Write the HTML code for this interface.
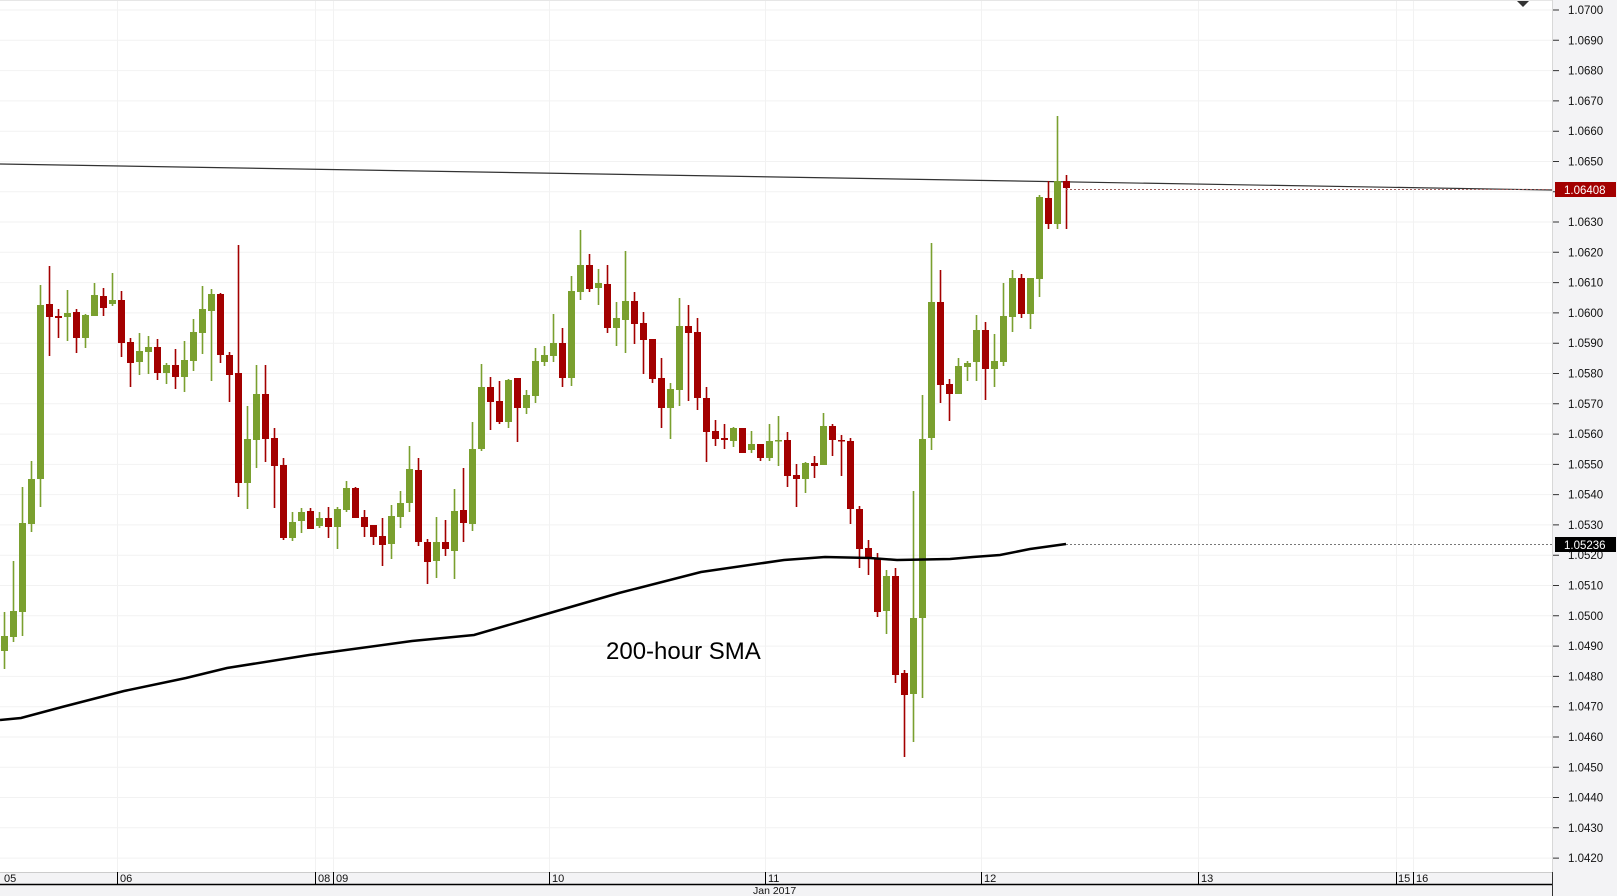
<!DOCTYPE html>
<html><head><meta charset="utf-8"><style>
html,body{margin:0;padding:0;background:#fff;}
svg{display:block;}
.g{fill:#7aa02f;stroke:none}
.r{fill:#a30000;stroke:none}
text{font-family:"Liberation Sans","DejaVu Sans",sans-serif;}
</style></head><body>
<svg width="1617" height="896" viewBox="0 0 1617 896" xmlns="http://www.w3.org/2000/svg">
<rect x="0" y="0" width="1617" height="896" fill="#fff"/>
<rect x="1552" y="0" width="65" height="896" fill="#f3f3f5"/>
<rect x="0" y="872" width="1552" height="24" fill="#f3f3f5"/>
<g stroke="#f2f2f2" stroke-width="1">
<path d="M0 10H1552M0 40.3H1552M0 70.6H1552M0 100.9H1552M0 131.2H1552M0 161.5H1552M0 191.7H1552M0 222H1552M0 252.3H1552M0 282.6H1552M0 312.9H1552M0 343.2H1552M0 373.5H1552M0 403.8H1552M0 434.1H1552M0 464.4H1552M0 494.6H1552M0 524.9H1552M0 555.2H1552M0 585.5H1552M0 615.8H1552M0 646.1H1552M0 676.4H1552M0 706.7H1552M0 737H1552M0 767.3H1552M0 797.5H1552M0 827.8H1552M0 858.1H1552"/>
<path d="M117.5 0V872M315.5 0V872M333.5 0V872M549.5 0V872M765.5 0V872M981.5 0V872M1198.5 0V872M1396.5 0V872M1413.5 0V872"/>
</g>
<line x1="0" y1="0.5" x2="1552" y2="0.5" stroke="#e6e6e6"/>
<line x1="1552.5" y1="0" x2="1552.5" y2="884" stroke="#d8d8d8"/>
<line x1="0" y1="164" x2="1552" y2="190" stroke="#333" stroke-width="1.2"/>
<path stroke="#7aa02f" stroke-width="1.6" fill="none" d="M4.5 612V669M13.5 561V642M22.5 487V636M31.5 461V532M40.5 285V507M67.5 290V341M85.5 314V348M94.5 283V316M112.5 273V306M139.5 333V375M148.5 336V374M166.5 363V384M184.5 341V392M193.5 319V371M202.5 286V354M211.5 289V381M247.5 406V509M256.5 365V468M292.5 512V541M301.5 508V533M319.5 512V528M337.5 507V549M346.5 481V512M391.5 505V559M400.5 491V528M409.5 446V512M436.5 517V578M454.5 489V579M472.5 422V531M481.5 364V451M508.5 379V428M526.5 390V414M535.5 348V403M544.5 346V366M553.5 314V362M571.5 276V386M580.5 230V300M598.5 269V305M616.5 302V346M625.5 251V353M670.5 383V439M679.5 298V406M733.5 427V447M751.5 431V453M769.5 424V461M778.5 416V466M805.5 462V493M823.5 413V465M886.5 570V634M913.5 491V742M922.5 395V698M931.5 243V450M958.5 358V394M967.5 361V381M976.5 315V381M994.5 334V387M1003.5 283V366M1012.5 270V332M1030.5 278V329M1039.5 195V297M1057.5 116V229"/>
<path stroke="#a30000" stroke-width="1.6" fill="none" d="M49.5 266V356M58.5 309V338M76.5 309V353M103.5 288V316M121.5 291V357M130.5 338V387M157.5 339V380M175.5 349V389M220.5 293V363M229.5 352V402M238.5 245V497M265.5 365V462M274.5 428V508M283.5 458V540M310.5 508V529M328.5 507V538M355.5 487V518M364.5 510V537M373.5 525V545M382.5 518V566M418.5 458V546M427.5 539V584M445.5 520V556M463.5 468V542M490.5 377V430M499.5 381V424M517.5 378V442M562.5 328V387M589.5 254V292M607.5 265V333M634.5 292V344M643.5 312V374M652.5 339V383M661.5 358V428M688.5 305V401M697.5 318V410M706.5 387V462M715.5 420V446M724.5 424V449M742.5 428V453M760.5 444V461M787.5 432V487M796.5 464V507M814.5 456V478M832.5 424V456M841.5 435V476M850.5 438V524M859.5 506V568M868.5 540V575M877.5 553V617M895.5 568V683M904.5 670V757M940.5 270V403M949.5 379V421M985.5 322V400M1021.5 274V318M1048.5 181V229M1066.5 175V229"/>
<g class="g">
<rect x="1" y="636" width="7" height="15"/><rect x="10" y="611" width="7" height="26"/><rect x="19" y="523" width="7" height="89"/><rect x="28" y="479" width="7" height="45"/><rect x="37" y="305" width="7" height="174"/><rect x="64" y="313" width="7" height="4"/><rect x="82" y="315" width="7" height="23"/><rect x="91" y="295" width="7" height="21"/><rect x="109" y="300" width="7" height="4"/><rect x="136" y="351" width="7" height="11"/><rect x="145" y="347" width="7" height="5"/><rect x="163" y="365" width="7" height="8"/><rect x="181" y="360" width="7" height="17"/><rect x="190" y="332" width="7" height="29"/><rect x="199" y="309" width="7" height="24"/><rect x="208" y="294" width="7" height="17"/><rect x="244" y="439" width="7" height="44"/><rect x="253" y="394" width="7" height="46"/><rect x="289" y="522" width="7" height="16"/><rect x="298" y="512" width="7" height="9"/><rect x="316" y="518" width="7" height="8"/><rect x="334" y="509" width="7" height="18"/><rect x="343" y="488" width="7" height="22"/><rect x="388" y="516" width="7" height="28"/><rect x="397" y="503" width="7" height="14"/><rect x="406" y="469" width="7" height="34"/><rect x="433" y="542" width="7" height="19"/><rect x="451" y="511" width="7" height="40"/><rect x="469" y="449" width="7" height="75"/><rect x="478" y="387" width="7" height="62"/><rect x="505" y="380" width="7" height="42"/><rect x="523" y="395" width="7" height="13"/><rect x="532" y="361" width="7" height="35"/><rect x="541" y="355" width="7" height="7"/><rect x="550" y="343" width="7" height="13"/><rect x="568" y="291" width="7" height="87"/><rect x="577" y="265" width="7" height="27"/><rect x="595" y="283" width="7" height="5"/><rect x="613" y="318" width="7" height="10"/><rect x="622" y="301" width="7" height="19"/><rect x="667" y="389" width="7" height="19"/><rect x="676" y="326" width="7" height="64"/><rect x="730" y="428" width="7" height="13"/><rect x="748" y="444" width="7" height="6"/><rect x="766" y="441" width="7" height="17"/><rect x="775" y="440" width="7" height="1.5"/><rect x="802" y="463" width="7" height="16"/><rect x="820" y="426" width="7" height="39"/><rect x="883" y="576" width="7" height="35"/><rect x="910" y="618" width="7" height="76"/><rect x="919" y="439" width="7" height="179"/><rect x="928" y="302" width="7" height="136"/><rect x="955" y="366" width="7" height="28"/><rect x="964" y="363" width="7" height="4"/><rect x="973" y="330" width="7" height="32"/><rect x="991" y="361" width="7" height="8"/><rect x="1000" y="316" width="7" height="46"/><rect x="1009" y="278" width="7" height="39"/><rect x="1027" y="278" width="7" height="36"/><rect x="1036" y="197" width="7" height="82"/><rect x="1054" y="181" width="7" height="43"/>
</g>
<g class="r">
<rect x="46" y="304" width="7" height="13"/><rect x="55" y="316" width="7" height="2"/><rect x="73" y="312" width="7" height="26"/><rect x="100" y="296" width="7" height="12"/><rect x="118" y="300" width="7" height="43"/><rect x="127" y="342" width="7" height="21"/><rect x="154" y="347" width="7" height="26"/><rect x="172" y="365" width="7" height="12"/><rect x="217" y="294" width="7" height="61"/><rect x="226" y="355" width="7" height="20"/><rect x="235" y="373" width="7" height="110"/><rect x="262" y="394" width="7" height="45"/><rect x="271" y="438" width="7" height="28"/><rect x="280" y="465" width="7" height="73"/><rect x="307" y="511" width="7" height="18"/><rect x="325" y="518" width="7" height="9"/><rect x="352" y="488" width="7" height="30"/><rect x="361" y="517" width="7" height="10"/><rect x="370" y="525" width="7" height="12"/><rect x="379" y="536" width="7" height="9"/><rect x="415" y="470" width="7" height="72"/><rect x="424" y="542" width="7" height="20"/><rect x="442" y="542" width="7" height="7"/><rect x="460" y="510" width="7" height="13"/><rect x="487" y="387" width="7" height="15"/><rect x="496" y="401" width="7" height="21"/><rect x="514" y="378" width="7" height="30"/><rect x="559" y="343" width="7" height="35"/><rect x="586" y="265" width="7" height="24"/><rect x="604" y="284" width="7" height="44"/><rect x="631" y="301" width="7" height="23"/><rect x="640" y="323" width="7" height="17"/><rect x="649" y="339" width="7" height="40"/><rect x="658" y="378" width="7" height="30"/><rect x="685" y="326" width="7" height="7"/><rect x="694" y="332" width="7" height="66"/><rect x="703" y="398" width="7" height="34"/><rect x="712" y="431" width="7" height="8"/><rect x="721" y="438" width="7" height="2"/><rect x="739" y="428" width="7" height="25"/><rect x="757" y="444" width="7" height="14"/><rect x="784" y="440" width="7" height="36"/><rect x="793" y="475" width="7" height="4"/><rect x="811" y="463" width="7" height="3"/><rect x="829" y="426" width="7" height="14"/><rect x="838" y="440" width="7" height="1.5"/><rect x="847" y="441" width="7" height="68"/><rect x="856" y="509" width="7" height="40"/><rect x="865" y="548" width="7" height="9"/><rect x="874" y="558" width="7" height="54"/><rect x="892" y="576" width="7" height="99"/><rect x="901" y="673" width="7" height="22"/><rect x="937" y="302" width="7" height="83"/><rect x="946" y="384" width="7" height="10"/><rect x="982" y="330" width="7" height="39"/><rect x="1018" y="278" width="7" height="36"/><rect x="1045" y="198" width="7" height="26"/><rect x="1063" y="181" width="7" height="7"/>
</g>
<polyline fill="none" stroke="#000" stroke-width="2.5" points="0,720 21,718 62,707 124,691 186,678 227,668 309,655 412,641 474,635 536,617 619,593 701,572 784,560 825,557 870,558 897,560 950,559 973,557 1000,555 1030,549 1066,544"/>
<line x1="1066" y1="544.5" x2="1552" y2="544.5" stroke="#777" stroke-dasharray="2,2"/>
<line x1="1066" y1="189.5" x2="1552" y2="189.5" stroke="#a06060" stroke-dasharray="2,2"/>
<text x="606" y="659" font-size="24" fill="#000">200-hour SMA</text>
<polygon points="1517,1 1529,1 1523,7" fill="#333"/>
<g stroke="#333" stroke-width="1">
<path d="M1553 10H1559M1553 40.3H1559M1553 70.6H1559M1553 100.9H1559M1553 131.2H1559M1553 161.5H1559M1553 191.7H1559M1553 222H1559M1553 252.3H1559M1553 282.6H1559M1553 312.9H1559M1553 343.2H1559M1553 373.5H1559M1553 403.8H1559M1553 434.1H1559M1553 464.4H1559M1553 494.6H1559M1553 524.9H1559M1553 555.2H1559M1553 585.5H1559M1553 615.8H1559M1553 646.1H1559M1553 676.4H1559M1553 706.7H1559M1553 737H1559M1553 767.3H1559M1553 797.5H1559M1553 827.8H1559M1553 858.1H1559"/>
</g>
<g font-size="11.5" fill="#111">
<text x="1568" y="14">1.0700</text><text x="1568" y="44.3">1.0690</text><text x="1568" y="74.6">1.0680</text><text x="1568" y="104.9">1.0670</text><text x="1568" y="135.2">1.0660</text><text x="1568" y="165.5">1.0650</text><text x="1568" y="226">1.0630</text><text x="1568" y="256.3">1.0620</text><text x="1568" y="286.6">1.0610</text><text x="1568" y="316.9">1.0600</text><text x="1568" y="347.2">1.0590</text><text x="1568" y="377.5">1.0580</text><text x="1568" y="407.8">1.0570</text><text x="1568" y="438.1">1.0560</text><text x="1568" y="468.4">1.0550</text><text x="1568" y="498.6">1.0540</text><text x="1568" y="528.9">1.0530</text><text x="1568" y="559.2">1.0520</text><text x="1568" y="589.5">1.0510</text><text x="1568" y="619.8">1.0500</text><text x="1568" y="650.1">1.0490</text><text x="1568" y="680.4">1.0480</text><text x="1568" y="710.7">1.0470</text><text x="1568" y="741">1.0460</text><text x="1568" y="771.3">1.0450</text><text x="1568" y="801.5">1.0440</text><text x="1568" y="831.8">1.0430</text><text x="1568" y="862.1">1.0420</text>
</g>
<rect x="1555" y="182" width="61" height="15" fill="#a30000"/>
<text x="1564" y="194" font-size="11.5" fill="#fff">1.06408</text>
<rect x="1555" y="537" width="61" height="15" fill="#000"/>
<text x="1564" y="549" font-size="11.5" fill="#fff">1.05236</text>
<line x1="0" y1="872.5" x2="1552" y2="872.5" stroke="#ccc"/>
<line x1="0" y1="884.5" x2="1552" y2="884.5" stroke="#000" stroke-width="1.5"/>
<line x1="1552.5" y1="872" x2="1552.5" y2="896" stroke="#333"/>
<path stroke="#000" d="M117.5 872V884M315.5 872V884M333.5 872V884M549.5 872V884M765.5 872V884M981.5 872V884M1198.5 872V884M1396.5 872V884M1413.5 872V884"/>
<g font-size="11" fill="#111">
<text x="4" y="882">05</text><text x="120" y="882">06</text><text x="318" y="882">08</text><text x="336" y="882">09</text><text x="552" y="882">10</text><text x="768" y="882">11</text><text x="984" y="882">12</text><text x="1201" y="882">13</text><text x="1398" y="882">15</text><text x="1416" y="882">16</text>
<text x="753" y="894" font-size="10.5">Jan 2017</text>
</g>
</svg>
</body></html>
